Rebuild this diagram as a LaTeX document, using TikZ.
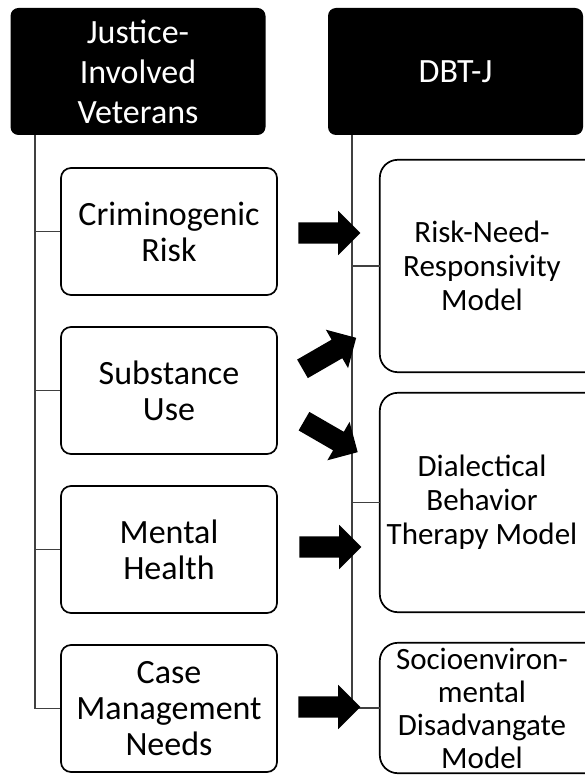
\documentclass[tikz,border=0pt]{standalone}
\usepackage{fontspec}
\setmainfont{Carlito}
\usetikzlibrary{shapes.arrows}

\begin{document}
\begin{tikzpicture}[x=1pt,y=-1pt,
  header/.style={fill=black,draw=none,rounded corners=8pt,text=white,
    minimum width=255pt,minimum height=127pt,inner sep=0pt,align=center,
    font=\fontsize{34}{40}\selectfont},
  need/.style={draw=black,line width=1.7pt,rounded corners=10pt,
    minimum width=216pt,minimum height=127pt,inner sep=0pt,align=center,
    font=\fontsize{34}{36}\selectfont},
  model/.style={minimum width=204pt,inner sep=0pt,align=center,
    font=\fontsize{31}{34}\selectfont},
  modelbox/.style={draw=black,line width=1.7pt,rounded corners=18pt},
  trunk/.style={draw=black!75,line width=1.7pt},
  bigarrow/.style={single arrow,fill=black,draw=none,inner xsep=0pt,
    inner ysep=10.5pt,minimum height=62pt,single arrow head extend=11.5pt}]
  \useasboundingbox (0,0) rectangle (585,775);
  \clip (0,0) rectangle (585,775);

  % column heads
  \node[header] (jiv) at (138,71.5) {Justice-\\Involved\\Veterans};
  \node[header] (dbtj) at (455.5,71.5) {DBT-J};

  % left column: needs of the veterans
  \node[need] (crim) at (169,231.5) {Criminogenic\\Risk};
  \node[need] (subst) at (169,390.5) {Substance\\Use};
  \node[need] (mental) at (169,549.5) {Mental\\Health};
  \node[need] (case) at (169,708.5) {Case\\Management\\Needs};

  % right column: models (boxes run off the right edge)
  \node[model,minimum height=212pt] (rnr) at (482,266) {Risk-Need-\\Responsivity\\Model};
  \node[model,minimum height=219pt] (dbt) at (482,502.5) {Dialectical\\Behavior\\Therapy Model};
  \node[model,minimum height=130pt,font=\fontsize{31}{33}\selectfont] (sed) at (482,708)
    {Socioenviron-\\mental\\Disadvangate\\Model};
  \foreach \m in {rnr,dbt,sed}
    \draw[modelbox] (\m.north west) rectangle ([xshift=20pt]\m.south east);

  % trunks and branches
  \coordinate (lt) at ([xshift=25pt]jiv.south west);
  \coordinate (rt) at ([xshift=24pt]dbtj.south west);
  \draw[trunk] (lt) |- (case.west);
  \foreach \b in {crim,subst,mental}
    \draw[trunk] (\b.west -| lt) -- (\b.west);
  \draw[trunk] (rt) |- (sed.west);
  \foreach \m in {rnr,dbt}
    \draw[trunk] (\m.west -| rt) -- (\m.west);

  % block arrows
  \node[bigarrow] (a1) at (324,233) {};
  \node[bigarrow,rotate=30] (a2) at (324.7,356) {};
  \node[bigarrow,rotate=-30] (a3) at (326.2,434) {};
  \node[bigarrow] (a4) at (325,547) {};
  \node[bigarrow] (a5) at (324,707) {};
\end{tikzpicture}
\end{document}
